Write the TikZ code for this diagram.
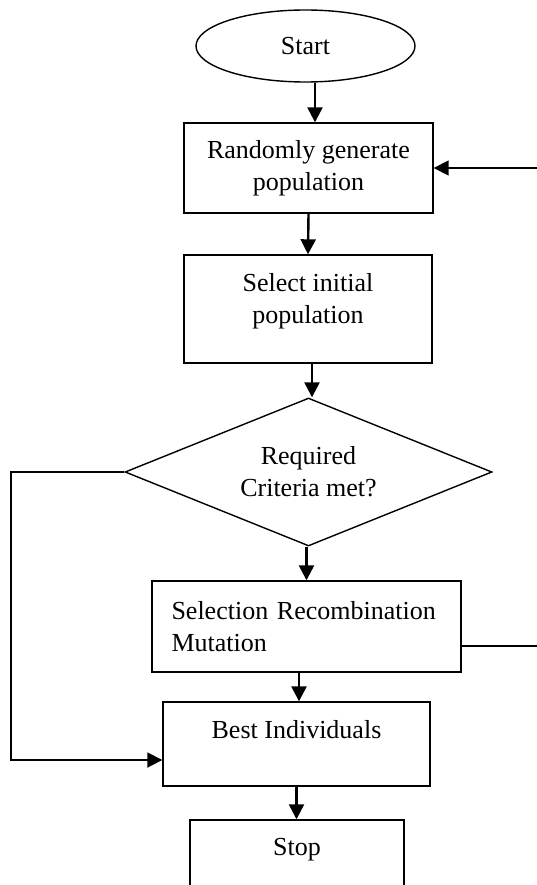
\documentclass[tikz,border=0pt]{standalone}
\usepackage{fontspec}
\setmainfont{Liberation Serif}
\usetikzlibrary{shapes.geometric,arrows.meta}
\begin{document}
\begin{tikzpicture}[x=1pt,y=-1pt,
  every node/.style={font=\fontsize{26}{32}\selectfont},
  box/.style={draw, line width=1.4pt, rectangle, inner sep=0pt, align=center},
  arr/.style={line width=2.4pt, -{Triangle[length=15pt,width=15pt]}},
  loopline/.style={line width=1.8pt, -{Triangle[length=15pt,width=15pt]}}]
\useasboundingbox (0,0) rectangle (536,885);
\fill[white] (0,0) rectangle (536,885);
\node[draw, line width=1.4pt, ellipse, inner sep=0pt, minimum width=219pt, minimum height=72pt] (start) at (305.5,46) {Start};
\node[box, minimum width=249pt, minimum height=90pt] (gen) at (308.5,168) {Randomly generate\\population};
\node[box, minimum width=248pt, minimum height=108pt] (sel) at (308,309) {Select initial\\population\\[-10pt]\mbox{}};
\node[draw, line width=1.4pt, diamond, aspect=2.48, inner sep=0pt, minimum width=367pt, minimum height=148pt, align=center] (dia) at (308.5,472) {Required\\Criteria met?};
\node[box, align=left, text width=270pt, inner xsep=19.5pt, minimum height=91pt] (ops) at (306.5,626.5) {Selection Recombination\\Mutation};
\node[box, minimum width=267pt, minimum height=84pt] (best) at (296.5,744) {Best Individuals\\[-2pt]\mbox{}};
\node[box, minimum width=214pt, minimum height=80pt] (stop) at (297,860) {Stop\\[-6pt]\mbox{}};
\coordinate (lx) at (11,472);
\draw[arr] ([xshift=9.5pt]start.south) -- ([xshift=9.5pt]start.south |- gen.north);
\draw[arr] (gen.south) -- (sel.north);
\draw[arr] ([xshift=4pt]sel.south) -- ([xshift=4pt]sel.south |- dia.north);
\draw[arr] (dia.south -| ops.north) -- (ops.north);
\draw[arr] ([xshift=-7.5pt]ops.south) -- ([xshift=-7.5pt]ops.south |- best.north);
\draw[arr] (best.south) -- (best.south |- stop.north);
\draw[loopline] (dia.west) -- (lx) |- ([yshift=-16pt]best.west);
\draw[loopline] ([yshift=-19.5pt]ops.east) -- ++(100,0) |- (gen.east);
\end{tikzpicture}
\end{document}
